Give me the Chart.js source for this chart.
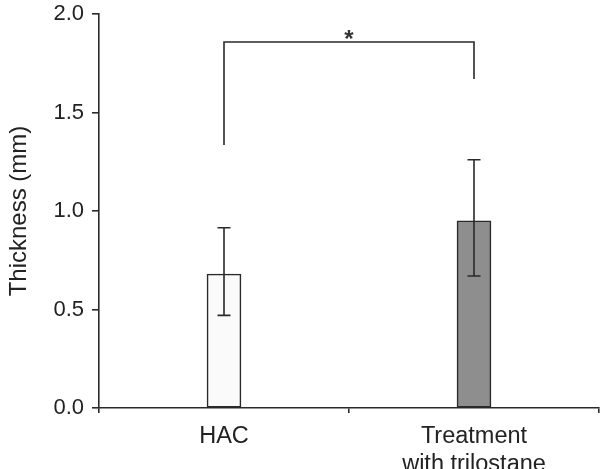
<!DOCTYPE html>
<html>
<head>
<meta charset="utf-8">
<script src="https://cdn.jsdelivr.net/npm/chart.js@4/dist/chart.umd.min.js"></script>
<style>
  html, body { margin: 0; padding: 0; background: #fff; }
  #wrap { width: 603px; height: 469px; }
</style>
</head>
<body>
<div id="wrap"><canvas id="c" width="603" height="469"></canvas></div>
<script>
// ---- data ----
const categories = ['HAC', ['Treatment', 'with trilostane']];
const means = [0.68, 0.95];
const errLow = [0.47, 0.67];
const errHigh = [0.915, 1.26];
const yTicks = [0.0, 0.5, 1.0, 1.5, 2.0];
const bracketLeftStart = 1.335;
const bracketTop = 1.858;
const bracketRightEnd = 1.67;
const sigLabel = '*';
const barColors = ['#fafafa', '#8e8e8e'];

const FONT = "'Liberation Sans', Arial, Helvetica, sans-serif";
const INK = '#2a2a2a';

const errorBarPlugin = {
  id: 'errorBars',
  afterDatasetsDraw(chart) {
    const ctx = chart.ctx;
    const x = chart.scales.x, y = chart.scales.y;
    const meta = chart.getDatasetMeta(0);
    ctx.save();
    ctx.strokeStyle = INK;
    ctx.lineWidth = 1.6;
    const cap = 6.5;
    meta.data.forEach((bar, i) => {
      const cx = bar.x;
      const yl = y.getPixelForValue(errLow[i]);
      const yh = y.getPixelForValue(errHigh[i]);
      ctx.beginPath();
      ctx.moveTo(cx, yl); ctx.lineTo(cx, yh);
      ctx.moveTo(cx - cap, yl); ctx.lineTo(cx + cap, yl);
      ctx.moveTo(cx - cap, yh); ctx.lineTo(cx + cap, yh);
      ctx.stroke();
    });
    // significance bracket
    const x0 = meta.data[0].x, x1 = meta.data[1].x;
    ctx.beginPath();
    ctx.moveTo(x0, y.getPixelForValue(bracketLeftStart));
    ctx.lineTo(x0, y.getPixelForValue(bracketTop));
    ctx.lineTo(x1, y.getPixelForValue(bracketTop));
    ctx.lineTo(x1, y.getPixelForValue(bracketRightEnd));
    ctx.stroke();
    ctx.fillStyle = '#333';
    ctx.font = 'bold 24px ' + FONT;
    ctx.textAlign = 'center';
    ctx.textBaseline = 'middle';
    ctx.fillText(sigLabel, (x0 + x1) / 2, y.getPixelForValue(bracketTop) - 2);
    ctx.restore();
  }
};

new Chart(document.getElementById('c'), {
  type: 'bar',
  data: {
    labels: categories,
    datasets: [{
      data: means,
      backgroundColor: barColors,
      borderColor: INK,
      borderWidth: 1.6,
      borderSkipped: false,
      barThickness: 34
    }]
  },
  options: {
    responsive: false,
    animation: false,
    devicePixelRatio: 1,
    layout: { padding: { top: 14, right: 4, left: 0, bottom: 0 } },
    plugins: { legend: { display: false }, tooltip: { enabled: false } },
    scales: {
      x: {
        offset: true,
        grid: { display: true, offset: true, drawOnChartArea: false, drawTicks: true, tickLength: 5, color: INK, lineWidth: 1.6 },
        border: { display: true, color: INK, width: 1.6 },
        ticks: { color: '#222', font: { family: FONT, size: 23.5 }, padding: 9, maxRotation: 0, autoSkip: false },
        afterFit(s) { s.height = 61; s.paddingLeft = 0; s.paddingRight = 0; }
      },
      y: {
        min: 0, max: 2,
        afterBuildTicks(s) { s.ticks = yTicks.map(v => ({ value: v })); },
        grid: { display: true, drawOnChartArea: false, drawTicks: true, tickLength: 7, color: INK, lineWidth: 1.6 },
        border: { display: true, color: INK, width: 1.6 },
        ticks: { color: '#222', font: { family: FONT, size: 22 }, padding: 8, callback: v => Number(v).toFixed(1) },
        title: { display: true, text: 'Thickness (mm)', color: '#222', font: { family: FONT, size: 24 }, padding: { top: 5, bottom: 0 } },
        afterFit(s) { s.width = 99; s.paddingTop = 0; s.paddingBottom = 0; }
      }
    }
  },
  plugins: [errorBarPlugin]
});
</script>
</body>
</html>
